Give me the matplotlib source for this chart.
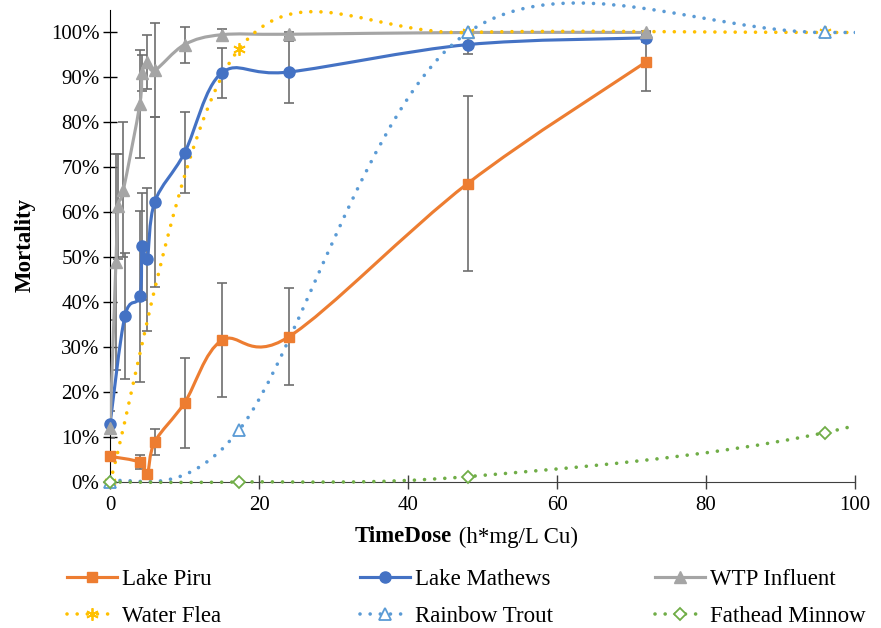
import numpy as np
import matplotlib
matplotlib.use("Agg")
import matplotlib.pyplot as plt
from matplotlib.path import Path
from matplotlib.patches import PathPatch, Rectangle
from matplotlib.lines import Line2D
from matplotlib.ticker import FuncFormatter

plt.rcParams['font.family'] = ['Liberation Serif', 'DejaVu Serif']

# data (mortality in %)
piru_x = [0, 4, 5, 6, 10, 15, 24, 48, 72]
piru_y = [5.7, 4.4, 1.8, 8.9, 17.6, 31.5, 32.3, 66.4, 93.5]
piru_err = [0, 1.6, 0, 3, 10, 12.7, 10.8, 19.4, 6.5]

mathews_x = [0, 2, 4, 4.3, 5, 6, 10, 15, 24, 48, 72]
mathews_y = [12.8, 36.9, 41.3, 52.4, 49.5, 62.3, 73.2, 91.0, 91.2, 97.3, 98.8]
mathews_err = [3, 14, 19, 12, 16, 19, 9, 5.6, 6.8, 2, 1]

wtp_x = [0, 0.8, 1.1, 1.8, 4, 4.3, 5, 6, 10, 15, 24, 48, 72]
wtp_y = [12, 49, 61.3, 65, 84, 91, 93.4, 91.6, 97.3, 99.5, 99.6, 100, 100]
wtp_err = [24, 24, 11.6, 15, 12, 4, 6, 10.5, 4, 1.2, 0.5, 0.3, 0.3]

ref_x = [0, 17.3, 48, 96, 144]
flea_y = [0, 96.3, 100, 100, 100]
trout_y = [0, 11.5, 100, 100, 100]
minnow_y = [0, 0, 1.2, 11, 35]

labels = ['Lake Piru', 'Lake Mathews', 'WTP Influent',
          'Water Flea', 'Rainbow Trout', 'Fathead Minnow']
colors = ['#ED7D31', '#4472C4', '#A5A5A5', '#FFC000', '#5B9BD5', '#70AD47']

DOT = (0, (0.01, 2.8))
FS = 16.5


def smooth_path(xs, ys):
    # Excel style smoothed line (Catmull-Rom as cubic bezier)
    pts = np.column_stack([xs, ys]).astype(float)
    n = len(pts)
    verts = [pts[0]]
    codes = [Path.MOVETO]
    for i in range(n - 1):
        p0 = pts[max(i - 1, 0)]
        p1 = pts[i]
        p2 = pts[i + 1]
        p3 = pts[min(i + 2, n - 1)]
        verts += [p1 + (p2 - p0) / 6, p2 - (p3 - p1) / 6, p2]
        codes += [Path.CURVE4] * 3
    return Path(verts, codes)


fig = plt.figure(figsize=(8.81, 6.28), dpi=100)
ax = fig.add_axes([110 / 881, 1 - 482 / 628, 745 / 881, 472 / 628])

err_kw = dict(fmt='none', ecolor='#6e6e6e', elinewidth=1.2, capsize=3.8, capthick=1.2, zorder=2)
ax.errorbar(wtp_x, wtp_y, yerr=wtp_err, **err_kw)
ax.errorbar(mathews_x, mathews_y, yerr=mathews_err, **err_kw)
ax.errorbar(piru_x, piru_y, yerr=piru_err, **err_kw)

series = [
    (piru_x, piru_y, colors[0], '-', dict(marker='s', ms=7.5, mfc=colors[0], mec=colors[0])),
    (mathews_x, mathews_y, colors[1], '-', dict(marker='o', ms=8, mfc=colors[1], mec=colors[1])),
    (wtp_x, wtp_y, colors[2], '-', dict(marker='^', ms=8, mfc=colors[2], mec=colors[2])),
    (ref_x, flea_y, colors[3], DOT, dict(marker=(6, 2, 0), ms=9, mec=colors[3], mew=1.3)),
    (ref_x, trout_y, colors[4], DOT, dict(marker='^', ms=8, mfc='white', mec=colors[4], mew=1.3)),
    (ref_x, minnow_y, colors[5], DOT, dict(marker='D', ms=6.5, mfc='white', mec=colors[5], mew=1.3)),
]

clip_rect = Rectangle((0, -0.05), 1, 1.15, transform=ax.transAxes, visible=False)
ax.add_patch(clip_rect)

handles = []
for (xs, ys, c, ls, mk), lab in zip(series, labels):
    lw = 2.25 if ls == '-' else 2.6
    patch = PathPatch(smooth_path(xs, ys), fill=False, edgecolor=c, lw=lw,
                      linestyle=ls, capstyle='round', zorder=3)
    ax.add_patch(patch)
    patch.set_clip_path(clip_rect)
    xs_in = [x for x in xs if x <= 100]
    ys_in = ys[:len(xs_in)]
    ax.plot(xs_in, ys_in, linestyle='none', zorder=4, clip_on=False, **mk)
    h = Line2D([], [], color=c, lw=lw, linestyle=ls, dash_capstyle='round', **mk)
    handles.append((h, lab))

ax.set_xlim(0, 100)
ax.set_ylim(0, 105)
ax.set_xticks(np.arange(0, 101, 20))
ax.set_yticks(np.arange(0, 101, 10))
ax.yaxis.set_major_formatter(FuncFormatter(lambda v, p: f'{v:.0f}%'))
for s in ['top', 'right']:
    ax.spines[s].set_visible(False)
ax.spines['left'].set_color('black')
ax.spines['bottom'].set_color('#404040')
ax.tick_params(axis='both', direction='inout', length=10, width=1, labelsize=15)
ax.tick_params(axis='y', pad=2.5)
ax.tick_params(axis='x', pad=5, color='#404040')

fig.text(25 / 881, 1 - 245 / 628, 'Mortality', rotation=90, fontsize=FS,
         fontweight='bold', ha='center', va='center')
fig.text(452 / 881, 1 - 537 / 628, 'TimeDose', fontsize=FS, fontweight='bold',
         ha='right', va='center')
fig.text(453 / 881, 1 - 537 / 628, ' (h*mg/L Cu)', fontsize=FS, ha='left', va='center')

col_x = [67, 360, 655]
for j in range(3):
    hs = [handles[j][0], handles[j + 3][0]]
    ls_ = [handles[j][1], handles[j + 3][1]]
    fig.legend(hs, ls_, loc='upper left', bbox_to_anchor=(col_x[j] / 881, 1 - 569 / 628),
               frameon=False, borderpad=0, borderaxespad=0, handlelength=2.2,
               handletextpad=0.2, labelspacing=0.68, fontsize=FS)

fig.savefig('out.png', dpi=100)
